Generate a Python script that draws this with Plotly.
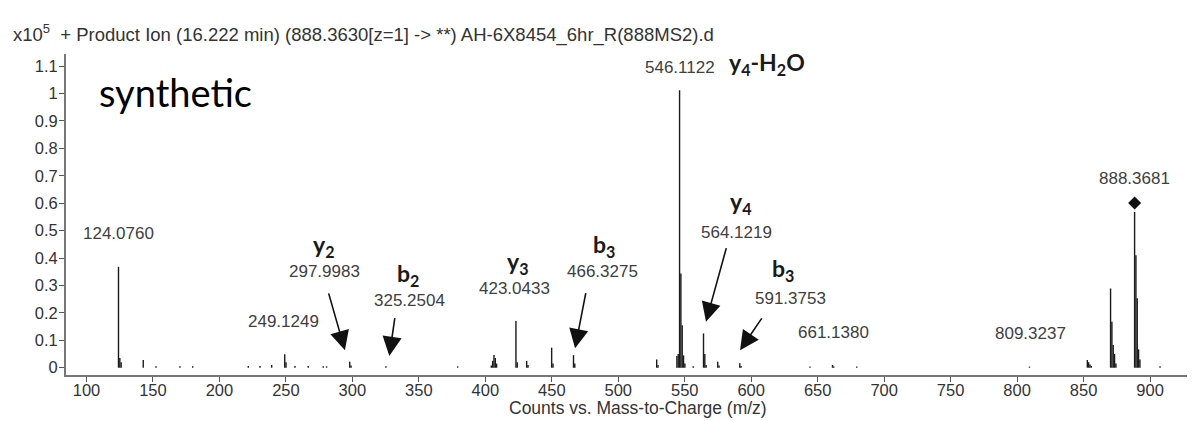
import plotly.graph_objects as go

# ---- data (intensities in units of 10^5 counts) ----
mz = [124.08, 125.1, 126.1, 142.7, 152.3, 170.3, 179.9, 221.7, 230.5, 239.3,
      249.12, 250.1, 256.8, 266.8, 278.1, 280.6, 298.0, 299.0, 325.25, 379.2,
      404.5, 405.5, 406.5, 407.5, 408.5, 423.04, 424.0, 431.1, 432.1, 449.9,
      450.9, 466.33, 467.3, 528.9, 529.9, 544.1, 545.1, 546.11, 547.1, 548.1,
      549.1, 550.1, 556.4, 564.12, 565.1, 566.1, 574.8, 575.8, 591.4, 592.4,
      644.2, 661.14, 662.1, 679.4, 809.32, 852.8, 853.8, 854.8, 855.8, 870.3,
      871.3, 872.3, 873.3, 874.3, 888.37, 889.37, 890.37, 891.37, 892.37, 907.5]
intensity = [0.368, 0.035, 0.02, 0.028, 0.005, 0.005, 0.005, 0.006, 0.006, 0.01,
             0.049, 0.02, 0.006, 0.006, 0.005, 0.005, 0.022, 0.008, 0.005, 0.005,
             0.008, 0.025, 0.046, 0.035, 0.015, 0.17, 0.02, 0.025, 0.01, 0.073,
             0.015, 0.046, 0.015, 0.03, 0.01, 0.043, 0.05, 1.012, 0.344, 0.155,
             0.045, 0.015, 0.005, 0.125, 0.05, 0.01, 0.022, 0.008, 0.016, 0.006,
             0.004, 0.01, 0.004, 0.004, 0.004, 0.028, 0.02, 0.012, 0.006, 0.289,
             0.168, 0.083, 0.05, 0.015, 0.568, 0.41, 0.253, 0.067, 0.03, 0.005]

precursor_mz = [888.37]
precursor_marker = [0.601]

# numeric peak labels
label_text = ["124.0760", "249.1249", "297.9983", "325.2504", "423.0433", "466.3275",
              "546.1122", "564.1219", "591.3753", "661.1380", "809.3237", "888.3681"]
label_x = [124.4, 248.0, 279.4, 343.3, 422.3, 488.0, 546.7, 589.1, 629.6, 661.9, 809.7, 888.1]
label_y = [0.49, 0.17, 0.35, 0.244, 0.289, 0.35, 1.095, 0.492, 0.253, 0.128, 0.125, 0.692]

# ion annotations
ion_text = ["y<sub>2</sub>", "b<sub>2</sub>", "y<sub>3</sub>", "b<sub>3</sub>",
            "y<sub>4</sub>-H<sub>2</sub>O", "y<sub>4</sub>", "b<sub>3</sub>"]
ion_x = [278.1, 341.8, 424.1, 489.3, 611.5, 591.6, 624.2]
ion_y = [0.445, 0.341, 0.384, 0.445, 1.11, 0.603, 0.36]

# arrows: tip (data) and tail offsets (px)
arrow_x = [294.4, 327.8, 467.5, 566.0, 591.6]
arrow_y = [0.064, 0.043, 0.071, 0.168, 0.064]
arrow_ax = [-16.7, 5.7, 11.0, 20.7, 22.7]
arrow_ay = [-58.3, -39.3, -56.6, -75.0, -33.3]

xs, ys = [], []
for m, h in zip(mz, intensity):
    xs += [m, m, None]
    ys += [0, h, None]

fig = go.Figure()
fig.add_trace(go.Scatter(x=xs, y=ys, mode="lines",
                         line=dict(color="#1a1a1a", width=1.4),
                         hoverinfo="skip", showlegend=False))
fig.add_trace(go.Scatter(x=precursor_mz, y=precursor_marker, mode="markers",
                         marker=dict(symbol="diamond", size=10, color="#111"),
                         showlegend=False))

num_font = dict(family="Liberation Sans, Arial", size=17, color="#404040")
ion_font = dict(family="Lato, Open Sans", size=23, color="#1a1a1a")

for t, x, y in zip(label_text, label_x, label_y):
    fig.add_annotation(x=x, y=y, text=t, showarrow=False, font=num_font,
                       xanchor="center", yanchor="middle")
for t, x, y in zip(ion_text, ion_x, ion_y):
    fig.add_annotation(x=x, y=y, text="<b>" + t + "</b>", showarrow=False, font=ion_font,
                       xanchor="center", yanchor="middle")
for x, y, ax, ay in zip(arrow_x, arrow_y, arrow_ax, arrow_ay):
    fig.add_annotation(x=x, y=y, ax=ax, ay=ay, text="", showarrow=True,
                       arrowhead=2, arrowsize=2.4, arrowwidth=1.6, arrowcolor="#111")

fig.add_annotation(xref="paper", yref="paper", x=-0.0484, y=1.0654,
                   text="x10<sup>5</sup>  + Product Ion (16.222 min) (888.3630[z=1] -> **) AH-6X8454_6hr_R(888MS2).d",
                   showarrow=False, xanchor="left", yanchor="middle",
                   font=dict(family="Liberation Sans, Arial", size=18.5, color="#333"))
fig.add_annotation(xref="paper", yref="paper", x=0.0275, y=0.8816, text="synthetic",
                   showarrow=False, xanchor="left", yanchor="middle",
                   font=dict(family="Lato, Open Sans", size=38, color="#000"))
fig.add_annotation(xref="paper", yref="paper", x=0.5075, y=-0.104,
                   text="Counts vs. Mass-to-Charge (m/z)", showarrow=False,
                   xanchor="center", yanchor="middle",
                   font=dict(family="Liberation Sans, Arial", size=17.5, color="#333"))

tick_font = dict(family="Liberation Sans, Arial", size=16.5, color="#333")
fig.update_layout(
    width=1187, height=413,
    margin=dict(l=58, r=2, t=46, b=46),
    plot_bgcolor="white", paper_bgcolor="white",
    xaxis=dict(range=[84.6, 932.3], tick0=100, dtick=50, showgrid=False, zeroline=False,
               showline=True, linecolor="#777", linewidth=2, ticks="outside", ticklen=5,
               tickcolor="#555", tickfont=tick_font, ticklabelstandoff=-6),
    yaxis=dict(range=[-0.0266, 1.1443], tick0=0, dtick=0.1, showgrid=False, zeroline=False,
               showline=True, linecolor="#777", linewidth=2, ticks="outside", ticklen=5,
               tickcolor="#555", tickfont=tick_font, ticklabelstandoff=-2),
)

fig.write_html("out.html")
